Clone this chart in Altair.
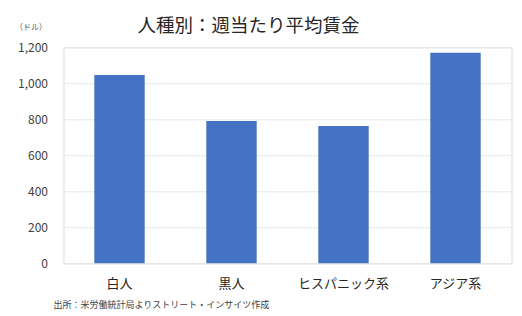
import altair as alt
import pandas as pd

categories = ["白人", "黒人", "ヒスパニック系", "アジア系"]
values = [1046, 790, 763, 1170]

df = pd.DataFrame({"group": categories, "wage": values})

FONT = "Noto Sans CJK JP"

chart = alt.Chart(df).mark_bar(color="#4472C4").encode(
    x=alt.X(
        "group:N",
        sort=categories,
        scale=alt.Scale(paddingInner=0.55, paddingOuter=0.275),
        axis=alt.Axis(
            title="出所：米労働統計局よりストリート・インサイツ作成",
            titleFont=FONT,
            titleFontSize=9,
            titleFontWeight="normal",
            titleColor="#404040",
            titleAlign="left",
            titleAnchor="start",
            titleBaseline="middle",
            titleX=-10.5,
            titleY=40.7,
            labelAngle=0,
            labelFont=FONT,
            labelFontSize=13,
            labelColor="#262626",
            labelPadding=14,
            ticks=False,
            domain=False,
            grid=False,
        ),
    ),
    y=alt.Y(
        "wage:Q",
        scale=alt.Scale(domain=[0, 1200]),
        axis=alt.Axis(
            title="（ドル）",
            titleFont=FONT,
            titleFontSize=8,
            titleFontWeight="normal",
            titleColor="#595959",
            titleAngle=0,
            titleAlign="left",
            titleBaseline="middle",
            titleX=-49,
            titleY=-19.5,
            values=[0, 200, 400, 600, 800, 1000, 1200],
            format=",.0f",
            labelFont=FONT,
            labelFontSize=12,
            labelColor="#404040",
            labelPadding=16,
            ticks=False,
            domain=False,
            grid=True,
            gridColor="#e8e8e8",
            gridWidth=1,
        ),
    ),
).properties(
    width=448,
    height=216,
    title=alt.TitleParams(
        text="人種別：週当たり平均賃金",
        font=FONT,
        fontSize=18.5,
        fontWeight="normal",
        color="#262626",
        anchor="middle",
        frame="group",
        baseline="middle",
        dx=-39,
        dy=43,
        offset=22,
    ),
    autosize=alt.AutoSizeParams(type="none"),
    padding={"left": 63.5, "top": 47.3, "right": 10.5, "bottom": 52.7},
).configure_view(stroke=None).configure(background="white")

chart.save("out.html", embed_options={"renderer": "svg", "actions": False})
